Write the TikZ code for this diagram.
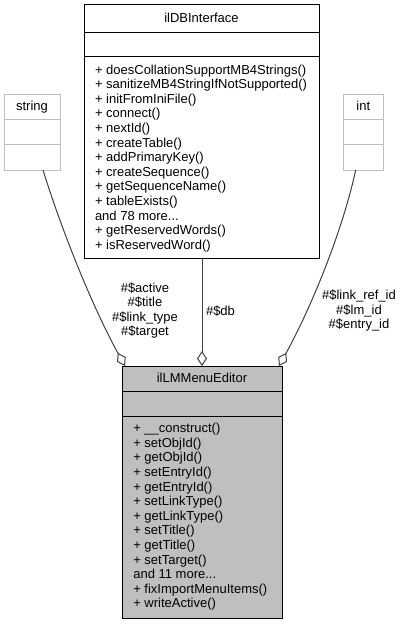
\documentclass[tikz,border=0pt]{standalone}
\usepackage{fontspec}
\setmainfont{Liberation Sans}
\usetikzlibrary{arrows.meta,calc}
\definecolor{edgegray}{HTML}{404040}
\definecolor{boxgray}{HTML}{BFBFBF}
\newcommand{\umlfs}{\fontsize{13}{14.6}\selectfont}
\begin{document}
\begin{tikzpicture}[x=1pt,y=-1pt,
  classbox/.style={draw=black, line width=1pt, fill=white, inner sep=0pt, outer sep=0pt, anchor=north west},
  graybox/.style={classbox, fill=boxgray},
  extbox/.style={classbox, draw=boxgray},
  divider/.style={draw=black, line width=1pt},
  extdivider/.style={draw=boxgray, line width=1pt},
  txt/.style={font=\umlfs, inner sep=0pt, outer sep=0pt, text=black},
  assoc/.style={draw=edgegray, line width=1pt, {Diamond[open,length=15pt,width=10pt]}-}
]
\useasboundingbox (0,0) rectangle (402,624);

% string
\node[extbox, minimum width=56pt, minimum height=76pt] (str) at (4,94) {};
\draw[extdivider] ([yshift=-25.3pt]str.north west) -- ([yshift=-25.3pt]str.north east);
\draw[extdivider] ([yshift=-50.3pt]str.north west) -- ([yshift=-50.3pt]str.north east);
\node[txt, anchor=base] (strt) at ([yshift=-16.3pt]str.north) {string};

% int
\node[extbox, minimum width=40pt, minimum height=76pt] (int) at (343.3,94) {};
\draw[extdivider] ([yshift=-25.3pt]int.north west) -- ([yshift=-25.3pt]int.north east);
\draw[extdivider] ([yshift=-50.3pt]int.north west) -- ([yshift=-50.3pt]int.north east);
\node[txt, anchor=base] (intt) at ([yshift=-16.3pt]int.north) {int};

% ilDBInterface
\node[classbox, minimum width=235pt, minimum height=253.3pt] (db) at (84,4.7) {};
\draw[divider] ([yshift=-27.6pt]db.north west) -- ([yshift=-27.6pt]db.north east);
\draw[divider] ([yshift=-51.3pt]db.north west) -- ([yshift=-51.3pt]db.north east);
\node[txt, anchor=base] (dbt) at ([yshift=-17.3pt]db.north) {ilDBInterface};
\node[txt, anchor=base west] (dbm) at ([xshift=11pt,yshift=-69.3pt]db.north west)
  {\begin{tabular}[t]{@{}l@{}}
  + doesCollationSupportMB4Strings()\\
  + sanitizeMB4StringIfNotSupported()\\
  + initFromIniFile()\\
  + connect()\\
  + nextId()\\
  + createTable()\\
  + addPrimaryKey()\\
  + createSequence()\\
  + getSequenceName()\\
  + tableExists()\\
  and 78 more...\\
  + getReservedWords()\\
  + isReservedWord()
  \end{tabular}};

% ilLMMenuEditor
\node[graybox, minimum width=160pt, minimum height=252pt] (ed) at (122,366) {};
\draw[divider] ([yshift=-25.7pt]ed.north west) -- ([yshift=-25.7pt]ed.north east);
\draw[divider] ([yshift=-50.7pt]ed.north west) -- ([yshift=-50.7pt]ed.north east);
\node[txt, anchor=base] (edt) at ([yshift=-16.5pt]ed.north) {ilLMMenuEditor};
\node[txt, anchor=base west] (edm) at ([xshift=11.3pt,yshift=-66.7pt]ed.north west)
  {\begin{tabular}[t]{@{}l@{}}
  + \_\_construct()\\
  + setObjId()\\
  + getObjId()\\
  + setEntryId()\\
  + getEntryId()\\
  + setLinkType()\\
  + getLinkType()\\
  + setTitle()\\
  + getTitle()\\
  + setTarget()\\
  and 11 more...\\
  + fixImportMenuItems()\\
  + writeActive()
  \end{tabular}};

% connectors
\coordinate (eL) at ([xshift=3pt]ed.north west);
\coordinate (eR) at ([xshift=-3pt]ed.north east);
\draw[assoc] (eL) .. controls +(-33,-60) and +(18.6,60) .. ([xshift=11pt]str.south);
\draw[assoc] (ed.north) -- (ed.north |- db.south);
\draw[assoc] (eR) .. controls +(33,-60) and +(-13,60) .. ([xshift=-7.6pt]int.south);

% labels
\node[txt, anchor=base] (lblL) at (145,292)
  {\begin{tabular}[t]{@{}c@{}}\#\$active\\\#\$title\\\#\$link\_type\\\#\$target\end{tabular}};
\node[txt, anchor=base] (lblM) at (220.5,315) {\#\$db};
\node[txt, anchor=base] (lblR) at (359,299.5)
  {\begin{tabular}[t]{@{}c@{}}\#\$link\_ref\_id\\\#\$lm\_id\\\#\$entry\_id\end{tabular}};
\end{tikzpicture}
\end{document}
